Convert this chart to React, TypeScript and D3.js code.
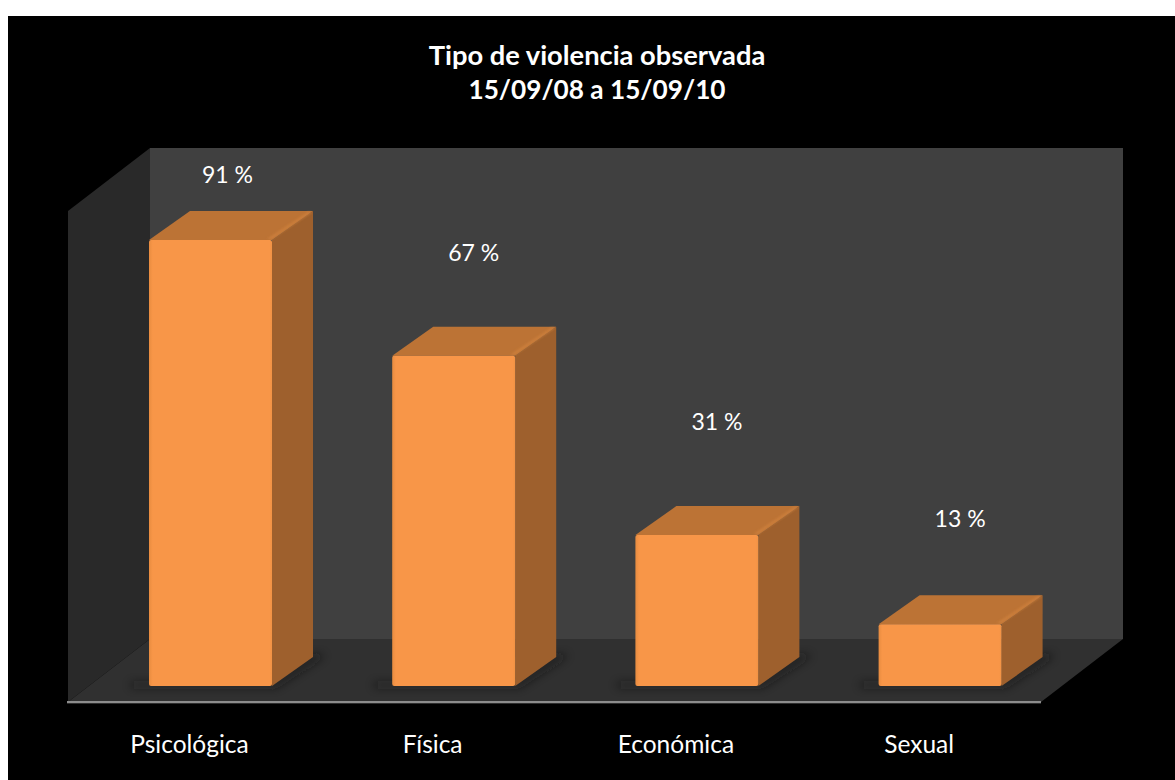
import React from "react";
import * as d3 from "d3";

const categories = ["Psicológica", "Física", "Económica", "Sexual"];
const values = [91, 67.4, 30.8, 12.6];
const valueLabels = ["91 %", "67 %", "31 %", "13 %"];
const titleLines = ["Tipo de violencia observada", "15/09/08 a 15/09/10"];
const labelLift = [65, 103, 113, 105];
const labelShift = [0, 3, 3, 3];

const W = 1175, H = 780;
const FONT = "Lato, 'Open Sans', sans-serif";
const wall = { left: 150, right: 1123, top: 148, bottom: 639 };
const depthWall = { dx: -82, dy: 63 };
const barDepth = { dx: 41, dy: -29 };
const baseY = 686;
const bw = 123;
const titleSizes = [27.3, 26.2];

const x = d3.scalePoint<string>().domain(categories).range([149, 878.6]);
const y = d3.scaleLinear().domain([0, 100]).range([baseY, baseY - 490]);
const poly = (pts: [number, number][]) => d3.line()(pts) + "Z";

export default function App() {
  const w = wall, d = depthWall;
  return (
    <svg width={W} height={H} viewBox={`0 0 ${W} ${H}`} style={{ position: "absolute", left: 0, top: 0 }}>
      <defs>
        <filter id="soft" x="-30%" y="-80%" width="160%" height="260%">
          <feGaussianBlur stdDeviation="5" />
        </filter>
        <filter id="bevel" x="-20%" y="-20%" width="140%" height="140%">
          <feGaussianBlur stdDeviation="1.2" />
        </filter>
        <linearGradient id="front" x1="0" x2="1" y1="0" y2="0">
          <stop offset="0" stopColor="#E88C40" />
          <stop offset="0.03" stopColor="#F89648" />
          <stop offset="0.98" stopColor="#F89648" />
          <stop offset="1" stopColor="#F09244" />
        </linearGradient>
      </defs>
      <rect x={8} y={16} width={W - 8} height={H - 16} fill="#000" />
      <rect x={w.left} y={w.top} width={w.right - w.left} height={w.bottom - w.top} fill="#404040" />
      <path d={poly([[w.left, w.top], [w.left + d.dx, w.top + d.dy], [w.left + d.dx, w.bottom + d.dy], [w.left, w.bottom]])} fill="#292929" />
      <path d={poly([[w.left, w.bottom], [w.right, w.bottom], [w.right + d.dx, w.bottom + d.dy], [w.left + d.dx, w.bottom + d.dy]])} fill="#303030" />
      <line x1={67} x2={w.right + d.dx} y1={702} y2={702} stroke="#8C8C8C" strokeWidth={2} />
      <line x1={67} x2={w.right + d.dx} y1={703.5} y2={703.5} stroke="#2E2E2E" strokeWidth={1} />

      {values.map((v, i) => {
        const x0 = x(categories[i])!, x1 = x0 + bw, t = y(v);
        const { dx, dy } = barDepth;
        return (
          <g key={categories[i]}>
            <path
              d={poly([[x0 - 18, baseY - 3], [x1, baseY - 3], [x1 + dx, baseY + dy - 2], [x1 + dx + 12, baseY + dy - 2], [x1 + 4, baseY + 1], [x0 - 18, baseY + 1]])}
              fill="#141414"
              opacity={0.75}
              filter="url(#soft)"
            />
            <path d={poly([[x1, t], [x1 + dx, t + dy], [x1 + dx, baseY + dy], [x1, baseY]])} fill="#9E602D" />
            <path d={poly([[x0, t], [x0 + dx, t + dy], [x1 + dx, t + dy], [x1, t]])} fill="#BC7335" />
            <path d={poly([[x1 - 5, t - 1], [x1 + dx - 5, t + dy + 1], [x1 + dx - 1, t + dy + 1], [x1, t - 1]])} fill="#CC7F3C" filter="url(#bevel)" />
            <rect x={x0} y={t} width={bw} height={baseY - t} rx={2} fill="url(#front)" />
            <text x={x0 + bw / 2 + 17 + labelShift[i]} y={t - labelLift[i]} dy="0.35em" textAnchor="middle" fill="#fff" fontFamily={FONT} fontSize={23}>
              {valueLabels[i]}
            </text>
            <text x={x0 + bw / 2 - 21} y={744} dy="0.35em" textAnchor="middle" fill="#fff" fontFamily={FONT} fontSize={24.5}>
              {categories[i]}
            </text>
          </g>
        );
      })}

      {titleLines.map((t, i) => (
        <text key={t} x={597} y={55 + i * 35} dy="0.35em" textAnchor="middle" fill="#fff" fontFamily={FONT} fontWeight={700} fontSize={titleSizes[i]}>
          {t}
        </text>
      ))}
    </svg>
  );
}
